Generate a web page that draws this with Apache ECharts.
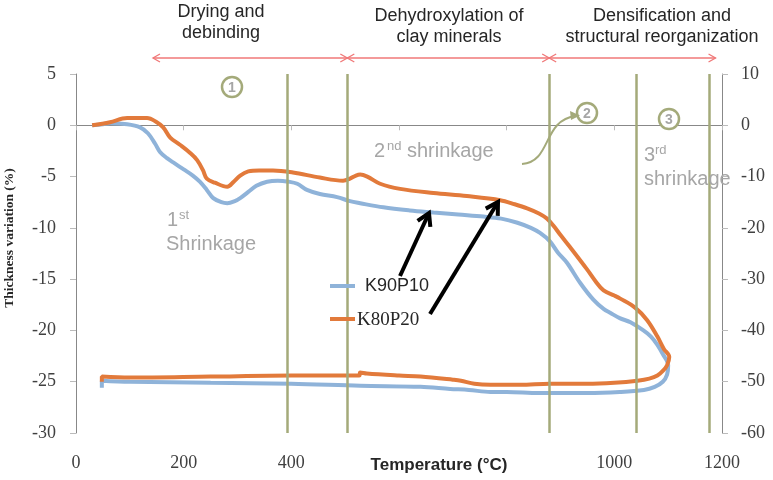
<!DOCTYPE html>
<html><head><meta charset="utf-8">
<script src="https://cdn.jsdelivr.net/npm/echarts@6/dist/echarts.min.js"></script>
<style>html,body{margin:0;padding:0;background:#fff}#c{width:773px;height:480px}</style>
</head><body><div id="c"></div>
<script>
// ---- data ----
const xTicks = [0, 200, 400, 600, 800, 1000, 1200];
const hiddenXLabels = [600, 800];
const seriesNames = ['K90P10', 'K80P20'];
// [temperature °C, thickness variation %] heating then cooling
const k90p10 = [
  [30,0],[50,0.1],[63,0.2],[95,0.1],[119,-0.2],[134,-0.8],[147,-1.8],[156,-2.6],[169,-3.2],[180,-3.6],
  [200,-4.3],[217,-4.9],[230,-5.5],[243,-6.3],[255,-7.1],[270,-7.5],[281,-7.6],[295,-7.4],[305,-7.1],
  [320,-6.5],[335,-5.9],[355,-5.5],[375,-5.4],[395,-5.5],[411,-5.7],[429,-6.3],[453,-6.7],[485,-7.0],
  [509,-7.4],[528,-7.6],[571,-8.0],[620,-8.3],[664,-8.5],[710,-8.7],[757,-8.9],[790,-9.1],[820,-9.5],
  [845,-10.0],[862,-10.5],[880,-11.3],[895,-12.4],[912,-13.4],[937,-15.4],[961,-17.0],[980,-17.9],
  [993,-18.3],[1010,-18.8],[1030,-19.2],[1054,-20.0],[1068,-20.6],[1080,-21.4],[1090,-22.3],[1100,-23.4],
  [1098,-24.3],[1090,-25.0],[1075,-25.5],[1055,-25.8],[1010,-26.0],[950,-26.1],[860,-26.1],[800,-26.0],
  [770,-26.0],[730,-25.8],[695,-25.7],[640,-25.5],[528,-25.4],[400,-25.2],[250,-25.1],[100,-25.0],
  [48,-24.9],[48,-25.6]
];
const k80p20 = [
  [30,0],[63,0.3],[95,0.7],[132,0.7],[150,0.3],[162,-0.2],[175,-1.2],[193,-1.9],[212,-2.7],[225,-3.4],
  [236,-4.4],[243,-5.2],[258,-5.6],[281,-6.0],[293,-5.5],[305,-4.9],[320,-4.5],[340,-4.4],[366,-4.4],
  [403,-4.6],[453,-5.1],[496,-5.4],[509,-5.2],[520,-4.9],[528,-4.8],[541,-5.0],[565,-5.7],[602,-6.2],
  [664,-6.6],[726,-6.9],[788,-7.3],[815,-7.7],[838,-8.1],[860,-8.6],[875,-9.1],[887,-9.8],[900,-10.7],
  [918,-11.9],[950,-14.1],[965,-15.2],[980,-16.1],[1000,-16.6],[1011,-16.9],[1039,-17.8],[1061,-19.0],
  [1080,-20.6],[1092,-21.8],[1102,-22.6],
  [1098,-23.4],[1091,-23.9],[1080,-24.4],[1065,-24.7],[1043,-24.9],[1000,-25.1],[950,-25.2],[880,-25.2],
  [825,-25.3],[770,-25.3],[740,-25.2],[715,-24.9],[700,-24.8],[640,-24.5],[600,-24.4],[540,-24.2],
  [528,-24.1],[526,-24.4],[400,-24.4],[250,-24.5],[100,-24.6],[48,-24.5],[48,-25.0]
];
const phaseLines = [392, 504, 879, 1041, 1176];
const phaseSpans = [[143, 504], [504, 879], [879, 1188]];
const phaseTitles = ['Drying and\ndebinding', 'Dehydroxylation of\nclay minerals', 'Densification and\nstructural reorganization'];

// ---- styles ----
const BLUE = '#8fb3d9', ORANGE = '#e27a3b', OLIVE = '#a4aa7a', RED = '#f07878', GRAY = '#a6a6a6';
const SERIF = '"Liberation Serif","Times New Roman",serif';
const SANS = '"Liberation Sans",Arial,sans-serif';
const AXIS = '#888888';

const chart = echarts.init(document.getElementById('c'));
const option = {
  animation: false,
  backgroundColor: '#fff',
  grid: { left: 76, right: 51, top: 74, bottom: 47, containLabel: false, outerBoundsMode: 'none' },
  xAxis: {
    type: 'value', min: xTicks[0], max: xTicks[xTicks.length - 1], interval: 200,
    axisLine: { show: true, lineStyle: { color: AXIS, width: 1 } },
    axisTick: { show: true, length: 5, lineStyle: { color: '#bbb' } },
    splitLine: { show: false },
    axisLabel: { fontFamily: SERIF, fontSize: 18, color: '#404040', margin: 21,
      formatter: v => hiddenXLabels.includes(v) ? '' : String(v) }
  },
  yAxis: [
    { type: 'value', min: -30, max: 5, interval: 5, position: 'left',
      axisLine: { show: true, lineStyle: { color: AXIS } },
      axisTick: { show: true, length: 6, lineStyle: { color: '#bbb' } },
      splitLine: { show: false },
      axisLabel: { fontFamily: SERIF, fontSize: 18, color: '#404040', margin: 20 } },
    { type: 'value', min: -60, max: 10, interval: 10, position: 'right',
      axisLine: { show: true, lineStyle: { color: AXIS } },
      axisTick: { show: true, length: 6, lineStyle: { color: '#bbb' } },
      splitLine: { show: false },
      axisLabel: { fontFamily: SERIF, fontSize: 18, color: '#404040', margin: 19 } }
  ],
  series: [
    { name: seriesNames[0], type: 'line', data: k90p10, showSymbol: false, smooth: 0.35,
      lineStyle: { color: BLUE, width: 4 }, itemStyle: { color: BLUE }, z: 2 },
    { name: seriesNames[1], type: 'line', data: k80p20, showSymbol: false, smooth: 0.35,
      lineStyle: { color: ORANGE, width: 4 }, itemStyle: { color: ORANGE }, z: 3 },
    { name: 'phases', type: 'line', data: [], z: 5,
      markLine: { silent: true, symbol: 'none', label: { show: false },
        lineStyle: { color: OLIVE, width: 2.5, type: 'solid' },
        data: phaseLines.map(v => ({ xAxis: v })) } }
  ]
};
chart.setOption(option);

const px = v => chart.convertToPixel({ xAxisIndex: 0 }, v);
const g = [];
function headChevron(x, y, dx, dy, len, half, color, lw) {
  const L = Math.hypot(dx, dy), ux = dx / L, uy = dy / L, nx = -uy, ny = ux;
  return { type: 'polyline', shape: { points: [[x - ux*len + nx*half, y - uy*len + ny*half], [x, y], [x - ux*len - nx*half, y - uy*len - ny*half]] },
    style: { stroke: color, lineWidth: lw, fill: null }, z: 20 };
}
// red phase arrows
const ay = 58;
phaseSpans.forEach(([a, b]) => {
  const x1 = px(a), x2 = px(b);
  g.push({ type: 'line', shape: { x1, y1: ay, x2, y2: ay }, style: { stroke: RED, lineWidth: 1.3 }, z: 20 });
  g.push(headChevron(x1, ay, -1, 0, 7, 4, RED, 1.3));
  g.push(headChevron(x2, ay, 1, 0, 7, 4, RED, 1.3));
});
// phase titles
const titlePos = [[221, 2], [449, 6], [662, 6]];
phaseTitles.forEach((t, i) => g.push({ type: 'text', x: titlePos[i][0], y: titlePos[i][1], z: 20,
  style: { text: t, fontFamily: SANS, fontSize: 18, lineHeight: 21, fill: '#262626', align: 'center', verticalAlign: 'top' } }));
// circled numbers
[[232, 87, '1'], [587, 113, '2'], [669, 119, '3']].forEach(([x, y, n]) => {
  g.push({ type: 'circle', shape: { cx: x, cy: y, r: 10 }, style: { stroke: OLIVE, lineWidth: 2.5, fill: '#fff' }, z: 20 });
  g.push({ type: 'text', x, y: y + 1, z: 21, style: { text: n, fontFamily: SANS, fontWeight: 'bold', fontSize: 14, fill: GRAY, align: 'center', verticalAlign: 'middle' } });
});
// shrinkage labels
function gtext(x, y, t, size) {
  g.push({ type: 'text', x, y, z: 20, style: { text: t, fontFamily: SANS, fontSize: size, fill: GRAY, align: 'left', verticalAlign: 'middle' } });
}
gtext(167, 220, '1', 20); gtext(179, 215, 'st', 13); gtext(166, 244, 'Shrinkage', 20);
gtext(374, 151, '2', 20); gtext(387, 146, 'nd', 13); gtext(407, 151, 'shrinkage', 20);
gtext(644, 155, '3', 20); gtext(655, 150, 'rd', 13); gtext(644, 179, 'shrinkage', 20);
// curved olive arrow to (2)
g.push({ type: 'bezierCurve', shape: { x1: 522, y1: 164, cpx1: 552, cpy1: 162, cpx2: 542, cpy2: 120, x2: 576, y2: 116 },
  style: { stroke: OLIVE, lineWidth: 2, fill: null }, z: 20 });
g.push({ type: 'polygon', shape: { points: [[570, 111], [580, 115.5], [571, 120]] }, style: { fill: OLIVE }, z: 20 });
// black arrows
[[400, 276, 429, 213], [430, 314, 498, 202]].forEach(([x1, y1, x2, y2]) => {
  g.push({ type: 'line', shape: { x1, y1, x2, y2 }, style: { stroke: '#000', lineWidth: 4 }, z: 20 });
  g.push(headChevron(x2, y2, x2 - x1, y2 - y1, 12, 7, '#000', 4));
});
// legend
g.push({ type: 'line', shape: { x1: 330, y1: 286, x2: 355, y2: 286 }, style: { stroke: BLUE, lineWidth: 4 }, z: 20 });
g.push({ type: 'text', x: 365, y: 286, z: 20, style: { text: seriesNames[0], fontFamily: SANS, fontSize: 18, fill: '#262626', verticalAlign: 'middle' } });
g.push({ type: 'line', shape: { x1: 330, y1: 319, x2: 355, y2: 319 }, style: { stroke: ORANGE, lineWidth: 4 }, z: 20 });
g.push({ type: 'text', x: 357, y: 320, z: 20, style: { text: seriesNames[1], fontFamily: SERIF, fontSize: 19, fill: '#262626', verticalAlign: 'middle' } });
// axis titles
g.push({ type: 'text', x: 10, y: 238, rotation: Math.PI / 2, z: 20,
  style: { text: 'Thickness variation (%)', fontFamily: SERIF, fontWeight: 'bold', fontSize: 13.5, fill: '#262626', align: 'center', verticalAlign: 'middle' } });
g.push({ type: 'text', x: 439, y: 465, z: 20,
  style: { text: 'Temperature (°C)', fontFamily: SANS, fontWeight: 'bold', fontSize: 17, fill: '#262626', align: 'center', verticalAlign: 'middle' } });

chart.setOption({ graphic: { elements: g } });
</script></body></html>
